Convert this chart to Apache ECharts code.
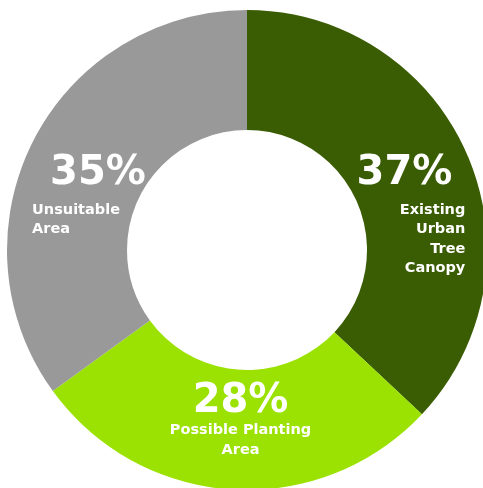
<!DOCTYPE html>
<html><head><meta charset="utf-8">
<script src="https://cdn.jsdelivr.net/npm/echarts@6/dist/echarts.min.js"></script>
<style>html,body{margin:0;padding:0;background:#fff}#c{width:483px;height:488px}</style>
</head><body><div id="c"></div>
<script>
const categories = ['Existing\nUrban\nTree\nCanopy', 'Possible Planting\nArea', 'Unsuitable\nArea'];
const values = [37, 28, 35];
const colors = ['#3a5c02', '#9be203', '#999999'];
const labelAlign = ['right', 'center', 'left'];
const labelOffsets = [[-4, 35], [5, -12], [5, 26]];
const pctLineHeight = [54, 39, 54];
const pctPad = [[0, 13, 0, 0], [0, 0, 0, 0], [0, 0, 0, 18]];

const chart = echarts.init(document.getElementById('c'));
chart.setOption({
  animation: false,
  series: [{
    type: 'pie',
    center: [247, 250],
    radius: [120, 240],
    startAngle: 90,
    clockwise: true,
    silent: true,
    data: values.map((v, i) => ({
      value: v,
      name: categories[i],
      itemStyle: { color: colors[i] },
      label: {
        offset: labelOffsets[i],
        rich: {
          p: { fontSize: 40, fontWeight: 'bold', color: '#fff', align: labelAlign[i], lineHeight: pctLineHeight[i], padding: pctPad[i], fontFamily: 'DejaVu Sans' },
          n: { fontSize: 14.5, fontWeight: 'bold', color: '#fff', align: labelAlign[i], lineHeight: 19.5, fontFamily: 'DejaVu Sans' }
        }
      }
    })),
    label: {
      show: true,
      position: 'inside',
      formatter: p => '{p|' + p.value + '%}\n{n|' + p.name.split('\n').join('}\n{n|') + '}'
    },
    labelLine: { show: false }
  }]
});
</script></body></html>
